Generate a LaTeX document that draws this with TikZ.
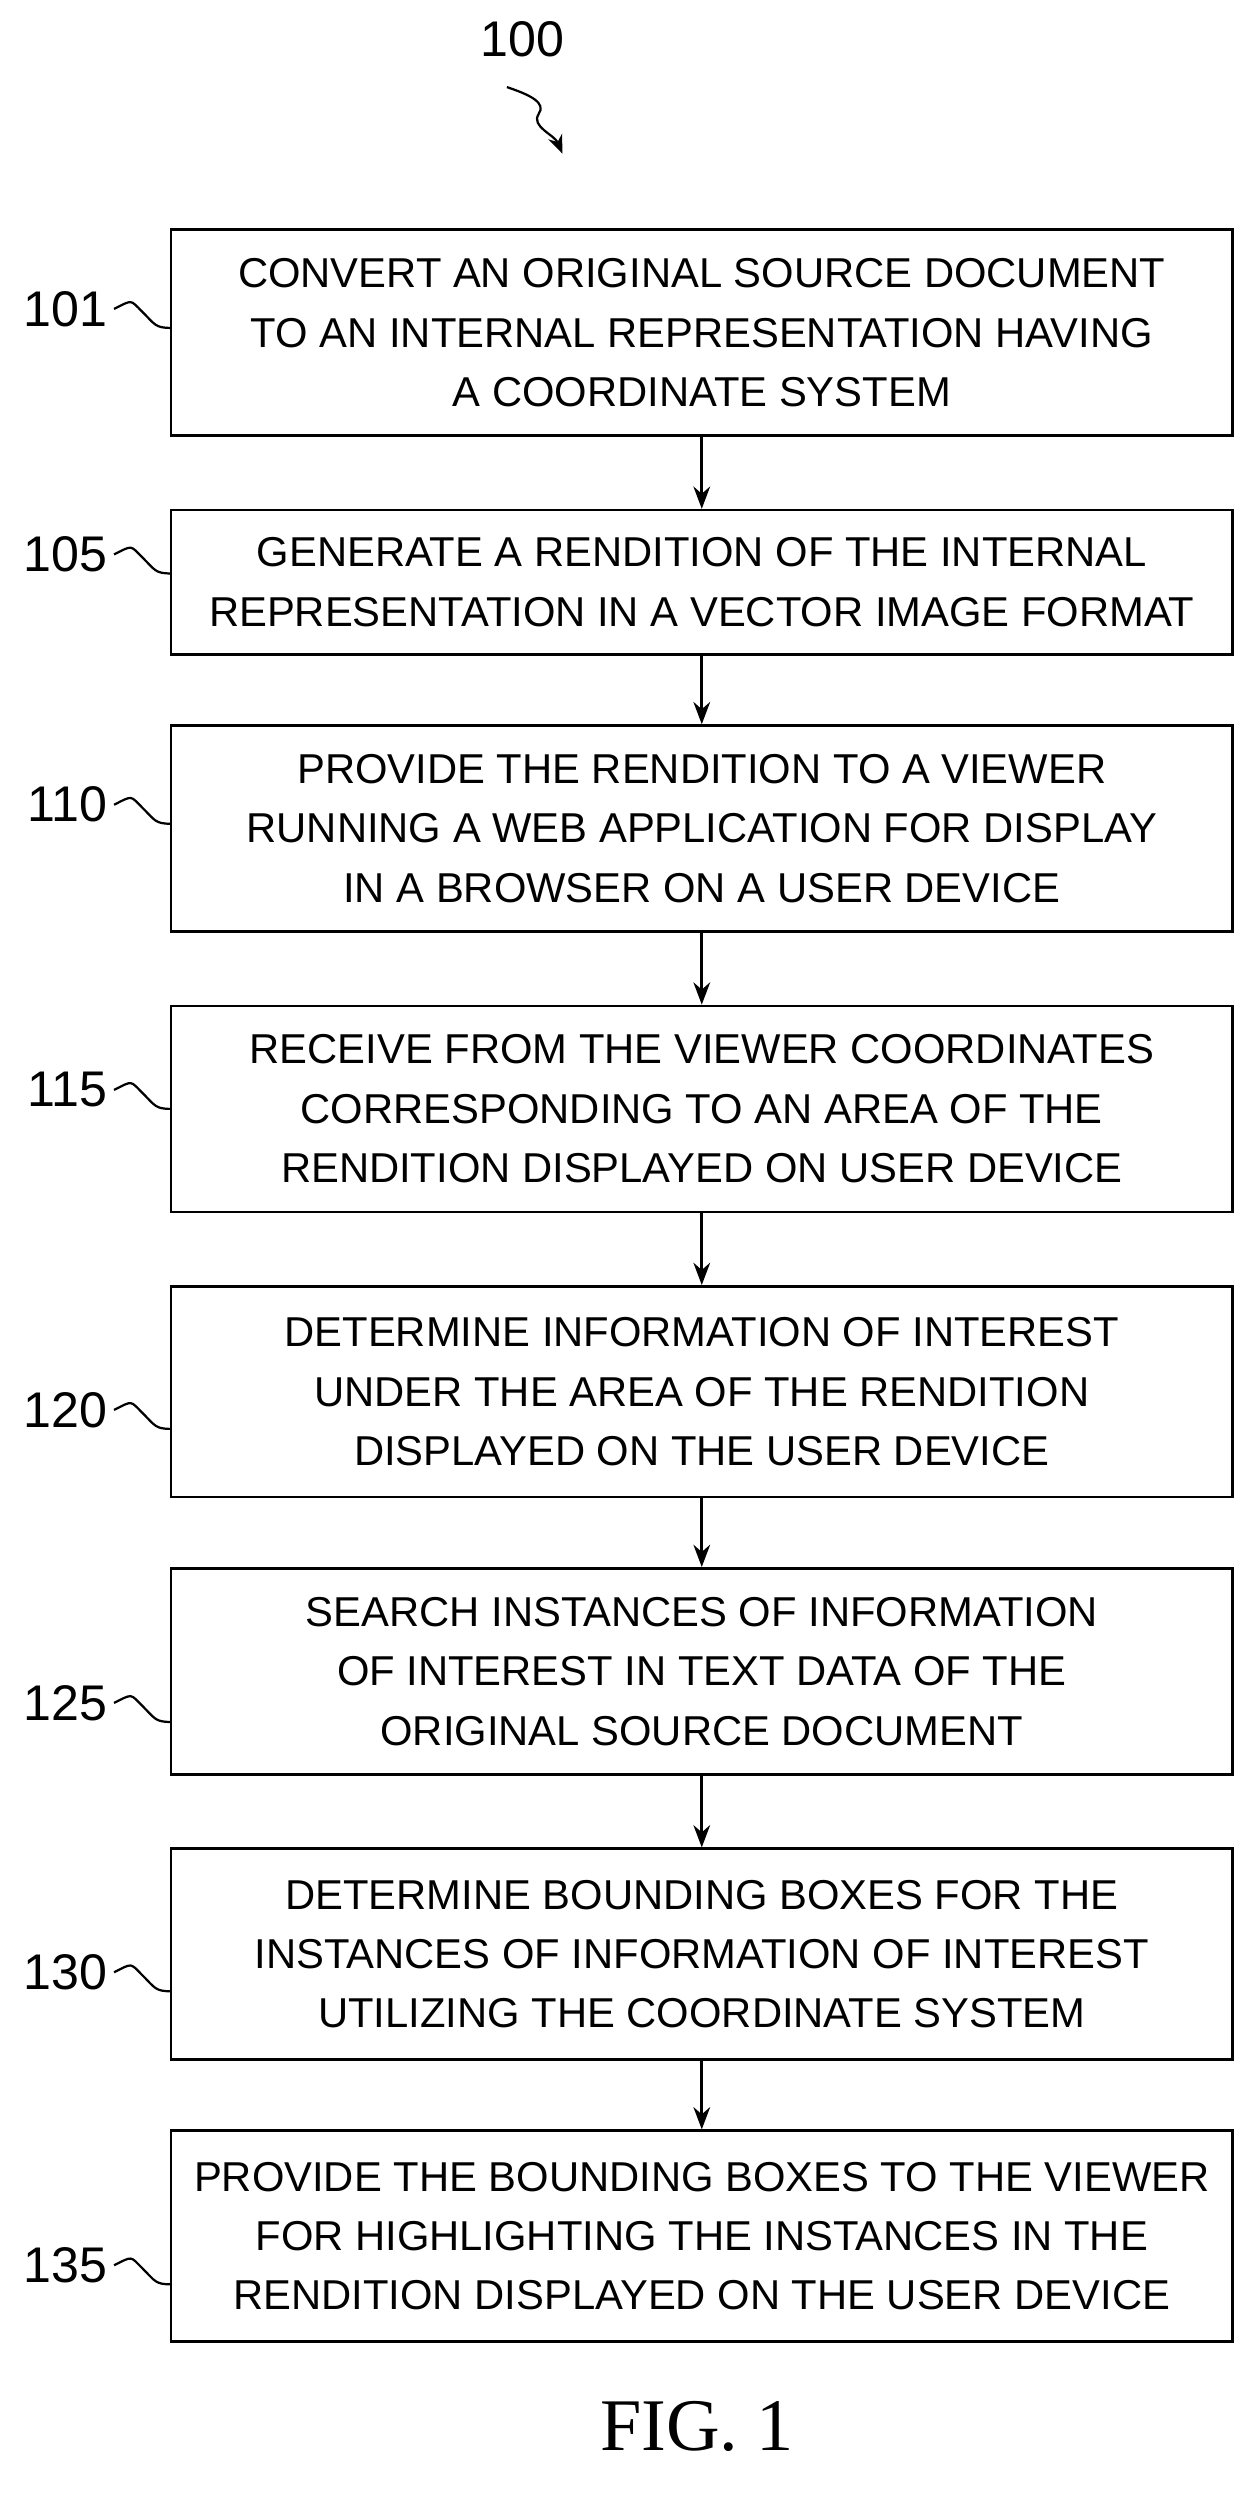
\documentclass[tikz,border=0pt]{standalone}
\usepackage{fontspec}
\setmainfont{Liberation Sans}
\newfontfamily\figfont{Liberation Serif}
\usetikzlibrary{arrows.meta}
\tikzset{
  stepbox/.style={draw,line width=1.4pt,minimum width=20.1cm,inner sep=0pt,align=center,
    font=\fontsize{22.5}{32}\selectfont},
  lbl/.style={font=\fontsize{27}{30}\selectfont,anchor=east},
  flow/.style={line width=1.4pt,-{Stealth[length=12pt,width=9pt]}},
  squig/.style={line width=1.2pt}
}
\begin{document}
\begin{tikzpicture}[x=0.03cm,y=-0.03cm]
	\useasboundingbox (0,0) rectangle (795,1575);

	%------------------------------------------------------
	\node[lbl,anchor=center] (n100) at (330,25) {100};
	\coordinate (t100) at (355,97);
	\draw[squig,-{Stealth[length=10pt,width=8pt]}] (320,55) .. controls (335,60) and (345,65) .. (340,72) .. controls (335,80) and (350,85) .. (t100);
	%------------------------------------------------------

	%------------------------------------------------------
	\node[stepbox,minimum height=3.9cm] (s101) at (443,210) {CONVERT AN ORIGINAL SOURCE DOCUMENT\\TO AN INTERNAL REPRESENTATION HAVING\\A COORDINATE SYSTEM};
	\node[stepbox,minimum height=2.73cm] (s105) at (443,367.5) {GENERATE A RENDITION OF THE INTERNAL\\REPRESENTATION IN A VECTOR IMAGE FORMAT};
	\node[stepbox,minimum height=3.9cm] (s110) at (443,523) {PROVIDE THE RENDITION TO A VIEWER\\RUNNING A WEB APPLICATION FOR DISPLAY\\IN A BROWSER ON A USER DEVICE};
	\node[stepbox,minimum height=3.9cm] (s115) at (443,700) {RECEIVE FROM THE VIEWER COORDINATES\\CORRESPONDING TO AN AREA OF THE\\RENDITION DISPLAYED ON USER DEVICE};
	\node[stepbox,minimum height=3.99cm] (s120) at (443,878.5) {DETERMINE INFORMATION OF INTEREST\\UNDER THE AREA OF THE RENDITION\\DISPLAYED ON THE USER DEVICE};
	\node[stepbox,minimum height=3.9cm] (s125) at (443,1055) {SEARCH INSTANCES OF INFORMATION\\OF INTEREST IN TEXT DATA OF THE\\ORIGINAL SOURCE DOCUMENT};
	\node[stepbox,minimum height=3.99cm] (s130) at (443,1233.5) {DETERMINE BOUNDING BOXES FOR THE\\INSTANCES OF INFORMATION OF INTEREST\\UTILIZING THE COORDINATE SYSTEM};
	\node[stepbox,minimum height=3.99cm] (s135) at (443,1411.5) {PROVIDE THE BOUNDING BOXES TO THE VIEWER\\FOR HIGHLIGHTING THE INSTANCES IN THE\\RENDITION DISPLAYED ON THE USER DEVICE};
	%------------------------------------------------------

	%------------------------------------------------------
	\foreach \a/\b in {s101/s105,s105/s110,s110/s115,s115/s120,s120/s125,s125/s130,s130/s135}
		\draw[flow] (\a) -- (\b);
	%------------------------------------------------------

	%------------------------------------------------------
	\foreach \n/\y in {101/195,105/350,110/508,115/688,120/890,125/1075,130/1245,135/1430}{
		\node[lbl] (l\n) at (72,\y) {\n};
		\coordinate (e\n) at (108,\y+12);
		\draw[squig] (l\n.east) .. controls +(12,-6) and +(-8,-8) .. +(18,2) .. controls +(8,8) and +(-10,0) .. (e\n);
	}
	%------------------------------------------------------

	\node[font=\figfont\fontsize{40}{44}\selectfont] (fig) at (440,1532) {FIG. 1};
\end{tikzpicture}
\end{document}
